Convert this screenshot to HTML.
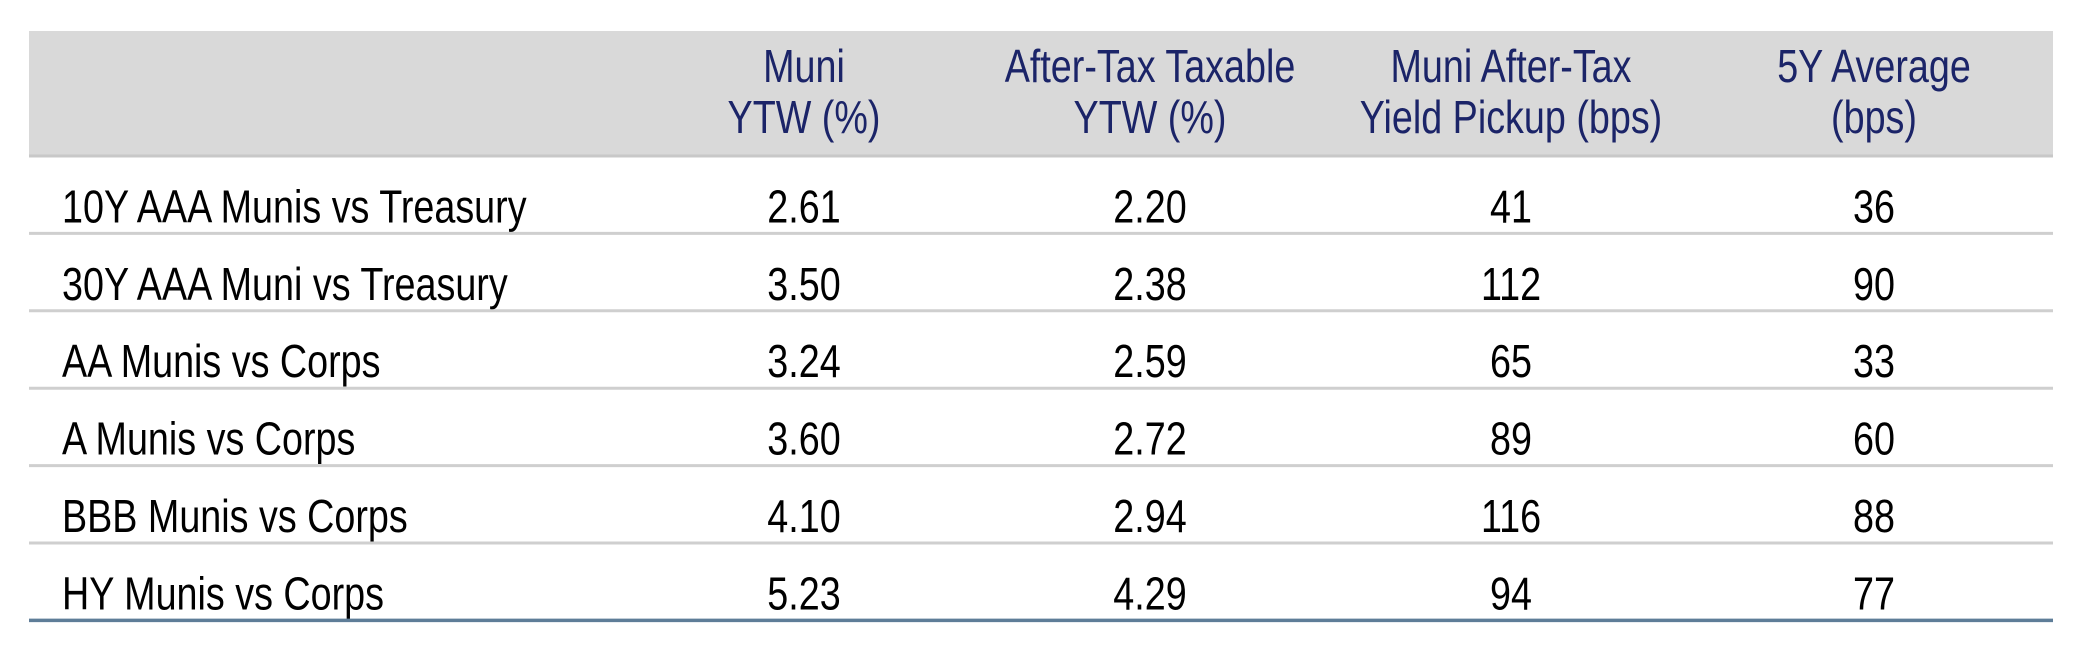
<!DOCTYPE html>
<html><head><meta charset="utf-8"><style>
html,body{margin:0;padding:0;background:#fff;}
svg{display:block;}
text{font-family:"Liberation Sans",sans-serif;}
</style></head><body>
<svg id="tbl" width="2084" height="657" viewBox="0 0 2084 657" xmlns="http://www.w3.org/2000/svg">
<rect x="29" y="31" width="2024" height="125" fill="#d9d9d9"/>
</svg>
<script>
const rowLabels = ["10Y AAA Munis vs Treasury","30Y AAA Muni vs Treasury","AA Munis vs Corps","A Munis vs Corps","BBB Munis vs Corps","HY Munis vs Corps"];
const muniYtw = ["2.61","3.50","3.24","3.60","4.10","5.23"];
const afterTaxYtw = ["2.20","2.38","2.59","2.72","2.94","4.29"];
const pickupBps = ["41","112","65","89","116","94"];
const avg5y = ["36","90","33","60","88","77"];
const headers = [["Muni","YTW (%)"],["After-Tax Taxable","YTW (%)"],["Muni After-Tax","Yield Pickup (bps)"],["5Y Average","(bps)"]];

const svg = document.getElementById('tbl');
const NS = 'http://www.w3.org/2000/svg';
const colX = [804,1150,1511,1874];
const top0 = 156, rowH = 77.4, left = 29, right = 2053;
const SX = 0.82, FS = 46;

function txt(s, x, y, anchor, color, name){
  const t = document.createElementNS(NS,'text');
  
  
  t.setAttribute('transform','translate('+x+','+y+') scale('+SX+',1)');
  t.setAttribute('text-anchor',anchor);
  t.setAttribute('font-size',FS);
  t.setAttribute('fill',color);
  t.textContent = s;
  svg.appendChild(t);
}
function line(y, color, w, name){
  const l = document.createElementNS(NS,'line');
  
  
  l.setAttribute('x1',left); l.setAttribute('x2',right);
  l.setAttribute('y1',y); l.setAttribute('y2',y);
  l.setAttribute('stroke',color); l.setAttribute('stroke-width',w);
  svg.appendChild(l);
}
line(top0, '#c8c8c8', 3, 'header-divider');
headers.forEach((h,i)=>{
  txt(h[0], colX[i], 82, 'middle', '#1b2468', 'column-header-line1');
  txt(h[1], colX[i], 133, 'middle', '#1b2468', 'column-header-line2');
});
const cols = [muniYtw, afterTaxYtw, pickupBps, avg5y];
rowLabels.forEach((lab,r)=>{
  const yb = top0 + rowH*(r+1);
  const base = yb - 11;
  txt(lab, 62, base, 'start', '#000', 'row-label');
  cols.forEach((c,i)=>txt(c[r], colX[i], base, 'middle', '#000', 'cell-value'));
  if (r < rowLabels.length-1) line(yb, '#cfcfcf', 3, 'row-divider');
  else line(yb, '#5e7d98', 3.5, 'table-bottom-rule');
});
</script>
</body></html>
